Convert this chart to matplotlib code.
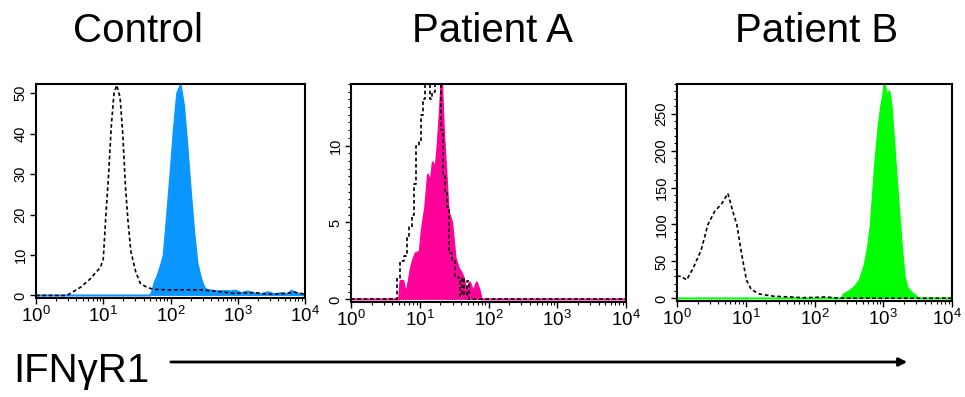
import numpy as np
from matplotlib import pyplot as plt
from matplotlib.ticker import MultipleLocator, LogLocator, NullFormatter
from matplotlib.patches import FancyArrowPatch
from matplotlib.transforms import ScaledTranslation

plt.rcParams['font.family'] = ['Liberation Sans', 'DejaVu Sans']
plt.rcParams['mathtext.fontset'] = 'custom'
plt.rcParams['mathtext.rm'] = 'Liberation Sans'

### Donnees (x en log10 de la fluorescence) ###

titles = ["Control", "Patient A", "Patient B"]
fill_colors = ["#0A96FF", "#FF0099", "#00FF00"]
y_tops = [52.3, 14.0, 290]
y_major = [10, 5, 50]
y_minor = [None, 0.5, 10]

ctrl_fill_x = [0.0, 1.70, 1.73, 1.76, 1.80, 1.85, 1.90, 1.95, 2.00, 2.05, 2.10, 2.15, 2.20, 2.25, 2.30,
               2.35, 2.40, 2.45, 2.50, 2.55, 2.62, 2.70, 2.80, 2.90, 2.97, 3.05, 3.15, 3.25, 3.35,
               3.45, 3.55, 3.65, 3.75, 3.80, 3.86, 3.92, 4.0]
ctrl_fill_y = [0, 0, 1, 3, 4.5, 7, 10, 20, 30, 41, 50, 52, 47, 37, 26,
               16, 8, 4.5, 2, 1.3, 1.2, 1.0, 1.1, 1.0, 1.2, 0.6, 1.0, 0.5, 0.3,
               0.8, 0.3, 0.6, 0.3, 1.2, 0.7, 0.3, 0]

ctrl_dash_x = [0.0, 0.46, 0.56, 0.66, 0.80, 0.96, 1.00, 1.04, 1.08, 1.12, 1.16, 1.20, 1.25, 1.29, 1.33,
               1.37, 1.41, 1.48, 1.55, 1.65, 1.75, 1.95, 2.20, 2.45, 2.70, 2.95, 3.25, 3.45, 3.65,
               3.85, 4.0]
ctrl_dash_y = [0, 0, 1, 2, 4, 7, 9, 20, 30, 42, 50, 52, 49, 40, 27,
               18, 11, 6, 3, 2, 1.5, 1.4, 1.4, 1.4, 1.0, 0.5, 0.7, 0.3, 0.4,
               0.8, 0.3]

patA_fill_x = [0.0, 0.70, 0.72, 0.76, 0.79, 0.81, 0.84, 0.87, 0.90, 0.94, 1.00, 1.03, 1.08, 1.12, 1.16,
               1.19, 1.23, 1.26, 1.29, 1.32, 1.35, 1.39, 1.42, 1.47, 1.52, 1.57, 1.60, 1.64, 1.68,
               1.73, 1.78, 1.83, 1.87, 1.90, 4.0]
patA_fill_y = [0, 0, 1.2, 1.2, 0.6, 0.5, 1.2, 2.0, 2.5, 3.0, 3.1, 4.5, 6.0, 8.1, 7.6,
               8.9, 8.5, 10, 12, 14.5, 11, 8.0, 5.7, 5.0, 2.7, 2.0, 1.8, 1.4, 0.5,
               1.1, 0.5, 1.1, 0.6, 0, 0]

patA_dash_x = [0.0, 0.66, 0.68, 0.74, 0.79, 0.83, 0.86, 0.90, 0.94, 0.96, 1.01, 1.03, 1.06, 1.08, 1.13,
               1.17, 1.20, 1.25, 1.29, 1.32, 1.35, 1.38, 1.41, 1.44, 1.49, 1.53, 1.57, 1.60, 1.63,
               1.67, 1.70, 1.73, 4.0]
patA_dash_y = [0, 0, 1.4, 2.5, 2.8, 4.0, 4.7, 5.5, 7.5, 10, 10.2, 12, 13, 14.5, 14.5,
               13, 13.5, 14.5, 14.5, 11, 8, 7, 6, 3, 2.5, 1.5, 1.4, 0.2, 1.4,
               0.3, 1.2, 0, 0]

patB_fill_x = [0.0, 2.40, 2.42, 2.51, 2.59, 2.66, 2.73, 2.78, 2.82, 2.85, 2.89, 2.93, 2.97, 3.00, 3.02,
               3.06, 3.09, 3.12, 3.16, 3.19, 3.23, 3.27, 3.31, 3.35, 3.41, 3.48, 3.51, 4.0]
patB_fill_y = [0, 0, 5, 10, 16, 25, 45, 70, 100, 140, 190, 230, 260, 275, 292,
               270, 280, 260, 210, 170, 120, 70, 30, 15, 8, 3, 0, 0]

patB_dash_x = [0.0, 0.06, 0.14, 0.23, 0.35, 0.45, 0.55, 0.65, 0.74, 0.82, 0.87, 0.94, 1.01, 1.08, 1.20,
               1.40, 1.64, 1.83, 2.03, 2.17, 2.32, 3.00, 4.0]
patB_dash_y = [30, 30, 25, 40, 65, 100, 118, 128, 142, 115, 100, 60, 25, 12, 6,
               3, 2, 1, 1.5, 2, 0.5, 0.3, 0.3]

fills = [(ctrl_fill_x, ctrl_fill_y), (patA_fill_x, patA_fill_y), (patB_fill_x, patB_fill_y)]
dashes = [(ctrl_dash_x, ctrl_dash_y), (patA_dash_x, patA_dash_y), (patB_dash_x, patB_dash_y)]
dash_steps = [False, True, False]

### Mise en page (pixels -> fraction) ###
W, H = 965, 397
boxes = [(36, 84, 305, 298), (351, 84, 626, 302), (677, 84, 952, 301)]
title_x = [138, 493, 817]

fig = plt.figure(figsize=(W / 100, H / 100), dpi=100)

for i in range(3):
    x0, y0, x1, y1 = boxes[i]
    ax = fig.add_axes([x0 / W, 1 - y1 / H, (x1 - x0) / W, (y1 - y0) / H])
    ax.set_xscale('log')
    ax.set_xlim(1, 1e4)
    top = y_tops[i]
    ax.set_ylim(-0.012 * top, top)

    fx, fy = fills[i]
    xs = 10 ** np.array(fx)
    ax.fill_between(xs, fy, 0, color=fill_colors[i], lw=0, zorder=2)
    ax.plot(xs, fy, color=fill_colors[i], lw=1.5, zorder=2)

    dx, dy = dashes[i]
    ds = 'steps-mid' if dash_steps[i] else 'default'
    ax.plot(10 ** np.array(dx), dy, color='black', lw=1.2, linestyle=(0, (2.2, 1.6)),
            drawstyle=ds, zorder=3)

    ax.yaxis.set_major_locator(MultipleLocator(y_major[i]))
    if y_minor[i]:
        ax.yaxis.set_minor_locator(MultipleLocator(y_minor[i]))
    ax.xaxis.set_major_locator(LogLocator(base=10, numticks=10))
    ax.xaxis.set_minor_locator(LogLocator(base=10, subs=np.arange(2, 10), numticks=10))
    ax.xaxis.set_minor_formatter(NullFormatter())

    ax.tick_params(axis='x', which='major', direction='out', length=4, width=1, labelsize=13.5, pad=2)
    ax.tick_params(axis='x', which='minor', direction='out', length=2.5, width=0.8)
    ax.tick_params(axis='y', which='major', direction='out', length=4, width=1, labelsize=10.5,
                   labelrotation=90, pad=2)
    ax.tick_params(axis='y', which='minor', direction='out', length=2.5, width=0.8)
    for lab in ax.get_yticklabels():
        lab.set_va('center')
    for sp in ax.spines.values():
        sp.set_linewidth(1.5)

    if i == 2:
        # dernier label 10^4 un peu decale pour ne pas sortir de l'image
        fig.canvas.draw()
        last = ax.get_xticklabels()[-1]
        for lab in ax.get_xticklabels():
            if lab.get_position()[0] == 1e4:
                last = lab
        last.set_transform(last.get_transform() + ScaledTranslation(-5 / 100, 0, fig.dpi_scale_trans))

    fig.text(title_x[i] / W, 1 - 42 / H, titles[i], fontsize=29, ha='center', va='baseline')

# etiquette et fleche en bas
fig.text(13 / W, 1 - 382 / H, "IFNγR1", fontsize=29, ha='left', va='baseline')
arrow = FancyArrowPatch((168 / W, 1 - 362 / H), (910 / W, 1 - 362 / H), transform=fig.transFigure,
                        arrowstyle='-|>', mutation_scale=12, lw=2, color='black')
fig.patches.append(arrow)

fig.savefig('out.png', dpi=100)
